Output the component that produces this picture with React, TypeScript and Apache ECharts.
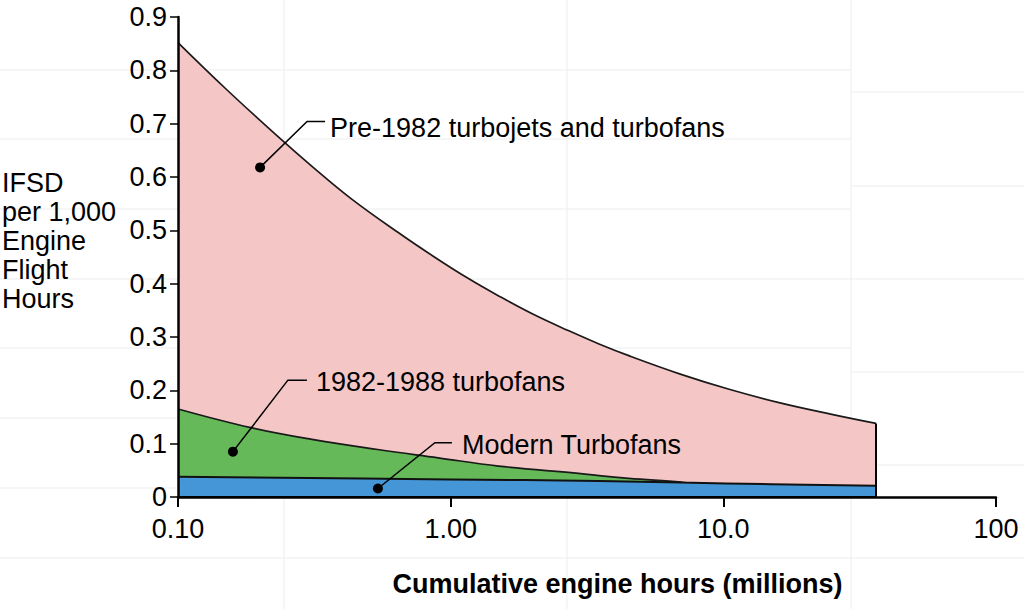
import React, { useEffect, useRef } from 'react';
import * as echarts from 'echarts';

// ---- Data ----
const xTickLabels = ['0.10', '1.00', '10.0', '100'];
const yAxisTitleLines = ['IFSD', 'per 1,000', 'Engine', 'Flight', 'Hours'];
const xAxisTitle = 'Cumulative engine hours (millions)';

const pre1982Hours = [0.1, 0.15, 0.23, 0.31, 0.43, 0.65, 0.86, 1.15, 1.5, 2.0, 2.7, 3.5, 4.5, 7.0, 10.5, 16, 25, 36.3];
const pre1982Rate = [0.852, 0.765, 0.678, 0.62, 0.56, 0.494, 0.452, 0.411, 0.377, 0.343, 0.312, 0.287, 0.265, 0.23, 0.202, 0.177, 0.155, 0.138];

const tf8288Hours = [0.1, 0.185, 0.31, 0.54, 0.9, 1.5, 3.0, 3.5, 4.5, 7.0, 7.5];
const tf8288Rate = [0.165, 0.13, 0.108, 0.089, 0.0735, 0.058, 0.044, 0.04, 0.035, 0.028, 0.026];

const modernHours = [0.1, 1.0, 3.5, 7.0, 15, 36.3];
const modernRate = [0.038, 0.033, 0.03, 0.027, 0.024, 0.021];

const annotationTexts = ['Pre-1982 turbojets and turbofans', '1982-1988 turbofans', 'Modern Turbofans'];
const annotationHours = [0.2, 0.159, 0.541];
const annotationRate = [0.618, 0.085, 0.016];

export default function App() {
  const ref = useRef<HTMLDivElement>(null);

  useEffect(() => {
    if (!ref.current) return;
    const chart = echarts.init(ref.current, null, { renderer: 'svg' });
    const font = '"Liberation Sans", Arial, Helvetica, sans-serif';
    const pair = (xs: number[], ys: number[]) => xs.map((x, i) => [x, ys[i]]);
    const lastX = pre1982Hours[pre1982Hours.length - 1];
    const lastY = pre1982Rate[pre1982Rate.length - 1];

    chart.setOption({
      animation: false,
      grid: { left: 178, right: 28, top: 17, bottom: 112 },
      xAxis: {
        type: 'log',
        logBase: 10,
        min: 0.1,
        max: 100,
        z: 10,
        axisLine: { show: true, onZero: false, lineStyle: { color: '#000', width: 2.5 } },
        axisTick: { show: true, length: 10, lineStyle: { color: '#000', width: 2 } },
        minorTick: { show: false },
        splitLine: { show: false },
        axisLabel: {
          fontSize: 27,
          color: '#000',
          fontFamily: font,
          margin: 18,
          formatter: (v: number) => xTickLabels[Math.round(Math.log10(v)) + 1] ?? '',
        },
      },
      yAxis: {
        type: 'value',
        min: 0,
        max: 0.9,
        interval: 0.1,
        z: 10,
        axisLine: { show: true, onZero: false, lineStyle: { color: '#000', width: 2.5 } },
        axisTick: { show: true, length: 8, lineStyle: { color: '#000', width: 1.5 } },
        splitLine: { show: false },
        axisLabel: {
          fontSize: 27,
          color: '#000',
          fontFamily: font,
          margin: 11,
          formatter: (v: number) => (Math.abs(v) < 1e-9 ? '0' : v.toFixed(1)),
        },
      },
      series: [
        {
          type: 'line',
          data: pair(pre1982Hours, pre1982Rate),
          smooth: 0.4,
          symbol: 'none',
          lineStyle: { color: '#1a1a1a', width: 1.7 },
          areaStyle: { color: '#F4C7C6', opacity: 1 },
          z: 2,
        },
        {
          type: 'line',
          data: pair(tf8288Hours, tf8288Rate),
          smooth: 0.4,
          symbol: 'none',
          lineStyle: { color: '#1a1a1a', width: 1.7 },
          areaStyle: { color: '#65B958', opacity: 1 },
          z: 3,
        },
        {
          type: 'line',
          data: pair(modernHours, modernRate),
          smooth: 0.4,
          symbol: 'none',
          lineStyle: { color: '#111', width: 2 },
          areaStyle: { color: '#4596D6', opacity: 1 },
          z: 4,
        },
        {
          type: 'line',
          data: [[pre1982Hours[0], 0], [lastX, 0], [lastX, lastY]],
          symbol: 'none',
          lineStyle: { color: '#000', width: 2 },
          z: 5,
        },
      ],
    });

    // Background faint table grid
    const bg: any[] = [];
    const bgColor = '#ededed';
    [284, 567, 851].forEach((x) =>
      bg.push({ type: 'line', z: -1, shape: { x1: x, y1: 0, x2: x, y2: 609 }, style: { stroke: bgColor, lineWidth: 1 } })
    );
    [70, 139, 209, 279, 348, 418, 488, 558].forEach((y) =>
      bg.push({ type: 'line', z: -1, shape: { x1: 0, y1: y, x2: 851, y2: y }, style: { stroke: bgColor, lineWidth: 1 } })
    );
    [92, 186, 279, 372, 465, 558].forEach((y) =>
      bg.push({ type: 'line', z: -1, shape: { x1: 851, y1: y, x2: 1024, y2: y }, style: { stroke: bgColor, lineWidth: 1 } })
    );

    // Callouts
    const leaderLayout = [
      { ex: 47, ey: -46, end: 65, tx: 70, ty: -39.5 },
      { ex: 55, ey: -71.5, end: 74, tx: 83, ty: -70 },
      { ex: 57, ey: -45.7, end: 74, tx: 84, ty: -43.5 },
    ];
    const callouts: any[] = [];
    annotationTexts.forEach((t, i) => {
      const p = chart.convertToPixel({ gridIndex: 0 }, [annotationHours[i], annotationRate[i]]) as number[];
      const [cx, cy] = p;
      const l = leaderLayout[i];
      callouts.push({
        type: 'polyline',
        z: 50,
        shape: { points: [[cx, cy], [cx + l.ex, cy + l.ey], [cx + l.end, cy + l.ey]] },
        style: { stroke: '#000', lineWidth: 1.5, fill: null },
      });
      callouts.push({ type: 'circle', z: 51, shape: { cx, cy, r: 5 }, style: { fill: '#000' } });
      callouts.push({
        type: 'text',
        z: 51,
        x: cx + l.tx,
        y: cy + l.ty,
        style: {
          text: t,
          font: `27px ${font}`,
          fill: '#000',
          align: 'left',
          textAlign: 'left',
          verticalAlign: 'middle',
          textVerticalAlign: 'middle',
        },
      });
    });

    chart.setOption({
      graphic: [
        ...bg,
        ...callouts,
        {
          type: 'text',
          z: 50,
          x: 2,
          y: 168,
          style: {
            text: yAxisTitleLines.join('\n'),
            font: `27px ${font}`,
            lineHeight: 29,
            fill: '#000',
            align: 'left',
            textAlign: 'left',
            verticalAlign: 'top',
            textVerticalAlign: 'top',
          },
        },
        {
          type: 'text',
          z: 50,
          x: 617.5,
          y: 583.5,
          style: {
            text: xAxisTitle,
            font: `bold 27px ${font}`,
            fill: '#000',
            align: 'center',
            textAlign: 'center',
            verticalAlign: 'middle',
            textVerticalAlign: 'middle',
          },
        },
      ],
    });

    return () => chart.dispose();
  }, []);

  return (
    <div
      ref={ref}
      style={{ position: 'fixed', left: 0, top: 0, width: 1024, height: 609, background: '#fff' }}
    />
  );
}
